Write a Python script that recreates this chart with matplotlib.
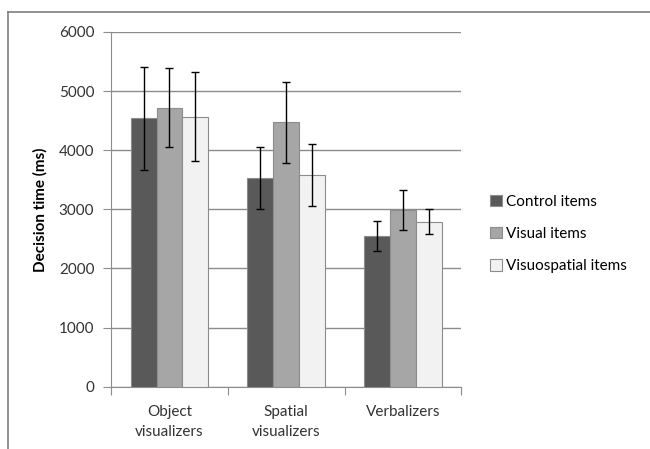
import matplotlib.pyplot as plt
import numpy as np
from matplotlib.lines import Line2D

# groups along the x axis
groups = ['Object\nvisualizers', 'Spatial\nvisualizers', 'Verbalizers']
series = ['Control items', 'Visual items', 'Visuospatial items']

# mean decision times (ms)
control = [4540, 3530, 2550]
visual = [4720, 4470, 2990]
visuospatial = [4570, 3580, 2790]

# half-length of the error bars (ms)
control_err = [870, 530, 255]
visual_err = [670, 690, 335]
visuospatial_err = [750, 530, 210]

colors = ['#595959', '#a6a6a6', '#f2f2f2']

plt.rcParams['font.family'] = ['Lato', 'DejaVu Sans']

fig = plt.figure(figsize=(6.5, 4.49), dpi=100)
ax = fig.add_axes([0.1708, 0.1388, 0.539, 0.79])

index = np.arange(len(groups))
bar_width = 0.221
values = [control, visual, visuospatial]
errors = [control_err, visual_err, visuospatial_err]
for i in range(3):
    ax.bar(index + (i - 1) * bar_width, values[i], bar_width,
           color=colors[i], edgecolor='#8c8c8c', linewidth=0.8,
           label=series[i], zorder=3,
           yerr=errors[i], error_kw=dict(ecolor='black', elinewidth=1,
                                         capsize=3, capthick=1, zorder=4))

ax.set_xlim(-0.5, 2.5)
ax.set_ylim(0, 6000)
ax.set_yticks(np.arange(0, 6001, 1000))
ax.yaxis.grid(True, color='#8c8c8c', linewidth=1)
ax.set_axisbelow(True)

# category labels between the boundary ticks
ax.set_xticks([-0.5, 0.5, 1.5, 2.5])
ax.set_xticklabels([])
ax.set_xticks(index, minor=True)
ax.set_xticklabels(groups, minor=True, fontsize=11, color='#333333',
                   linespacing=1.55)
ax.tick_params(axis='x', which='minor', length=0, pad=13)
ax.tick_params(axis='x', which='major', length=6, color='#8c8c8c')
ax.tick_params(axis='y', length=6, color='#8c8c8c', labelsize=11,
               labelcolor='#333333', pad=6)

for side in ['top', 'right']:
    ax.spines[side].set_visible(False)
for side in ['left', 'bottom']:
    ax.spines[side].set_color('#8c8c8c')

ax.set_ylabel('Decision time (ms)', fontsize=11, fontweight='bold', labelpad=8)

ax.legend(loc='center left', bbox_to_anchor=(0.733, 0.479),
          bbox_transform=fig.transFigure, frameon=False, fontsize=11,
          handlelength=0.75, handleheight=0.75, handletextpad=0.3,
          labelspacing=1.2)

# outer chart frame (left and top edges only)
fig.add_artist(Line2D([8 / 650, 8 / 650], [0, 1 - 11.5 / 449],
                      color='#7f7f7f', linewidth=1.2))
fig.add_artist(Line2D([8 / 650, 1], [1 - 11.5 / 449, 1 - 11.5 / 449],
                      color='#7f7f7f', linewidth=1.2))

plt.savefig('out.png', dpi=100)
